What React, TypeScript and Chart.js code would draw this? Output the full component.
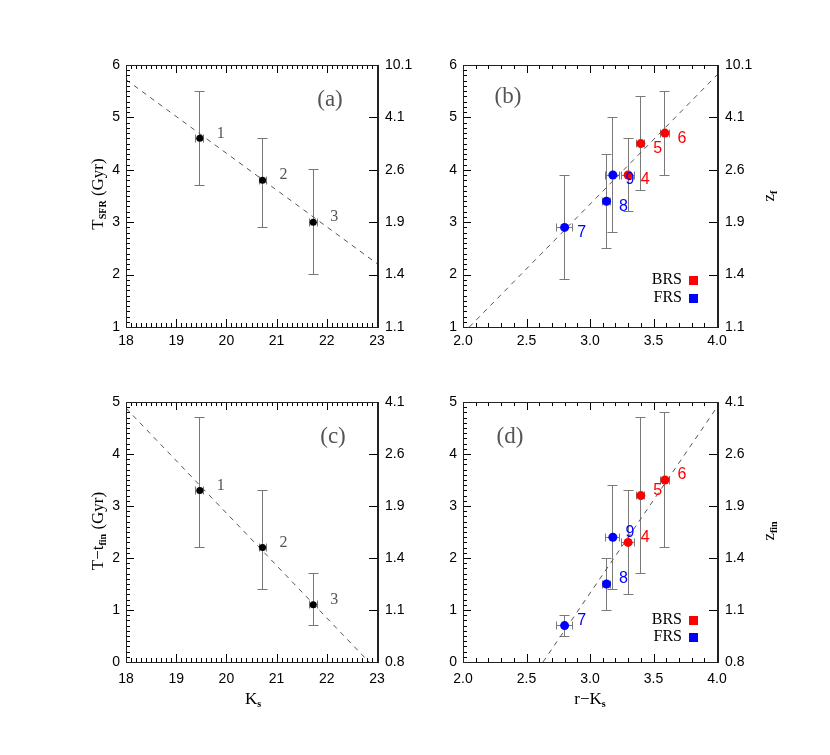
import React, { useEffect, useRef } from 'react';
import { Chart, registerables } from 'chart.js';

Chart.register(...registerables);

// ---------------- data ----------------
const KS_TICKS = [18, 19, 20, 21, 22, 23];
const RK_TICKS = [2.0, 2.5, 3.0, 3.5, 4.0];
const TSFR_TICKS = [1, 2, 3, 4, 5, 6];
const TFIN_TICKS = [0, 1, 2, 3, 4, 5];
const ZF_LABELS = ['1.1', '1.4', '1.9', '2.6', '4.1', '10.1'];
const ZFIN_LABELS = ['0.8', '1.1', '1.4', '1.9', '2.6', '4.1'];

// Ks magnitude bins (panels a, c)
const BIN_IDS = ['1', '2', '3'];
const BIN_KS = [19.47, 20.72, 21.73];
const BIN_KS_ERR = [0.08, 0.07, 0.08];
const BIN_TSFR = [4.6, 3.8, 3.0];
const BIN_TSFR_LO = [3.7, 2.9, 2.0];
const BIN_TSFR_HI = [5.5, 4.6, 4.0];
const BIN_TFIN = [3.3, 2.2, 1.1];
const BIN_TFIN_LO = [2.2, 1.4, 0.7];
const BIN_TFIN_HI = [4.7, 3.3, 1.7];

// BRS colour bins (panels b, d)
const BRS_IDS = ['4', '5', '6'];
const BRS_RK = [3.30, 3.40, 3.59];
const BRS_RK_ERR = [0.05, 0.03, 0.035];
const BRS_TSFR = [3.9, 4.5, 4.7];
const BRS_TSFR_LO = [3.2, 3.6, 3.9];
const BRS_TSFR_HI = [4.6, 5.4, 5.5];
const BRS_TFIN = [2.3, 3.2, 3.5];
const BRS_TFIN_LO = [1.3, 1.7, 2.2];
const BRS_TFIN_HI = [3.3, 4.7, 4.8];

// FRS colour bins (panels b, d)
const FRS_IDS = ['7', '8', '9'];
const FRS_RK = [2.80, 3.13, 3.18];
const FRS_RK_ERR = [0.065, 0.03, 0.055];
const FRS_TSFR = [2.9, 3.4, 3.9];
const FRS_TSFR_LO = [1.9, 2.5, 2.8];
const FRS_TSFR_HI = [3.9, 4.3, 5.0];
const FRS_TFIN = [0.7, 1.5, 2.4];
const FRS_TFIN_LO = [0.5, 1.0, 1.4];
const FRS_TFIN_HI = [0.9, 2.0, 3.4];

// fitted relations (end points)
const FIT_A_X = [18, 23];
const FIT_A_Y = [5.72, 2.21];
const FIT_B_X = [2.05, 4.0];
const FIT_B_Y = [1.0, 5.81];
const FIT_C_X = [18, 22.84];
const FIT_C_Y = [4.88, 0];
const FIT_D_X = [2.63, 4.0];
const FIT_D_Y = [0, 4.9];

// ---------------- styling / layout ----------------
const W = 830;
const H = 755;
const AX = 40;
const SANS = "'Liberation Sans', Arial, sans-serif";
const SERIF = "'Liberation Serif', 'Times New Roman', serif";
const RED = '#ff0000';
const BLUE = '#0000ff';

type Part = { t: string; sub?: boolean };
type Series = {
  ids: string[]; x: number[]; xErr: number[]; y: number[]; lo: number[]; hi: number[];
  color: string; radius: number; errColor: string; labelColor: string; labelFont: string;
  dx: number; dy: number;
};
type Title = { parts: Part[]; x: number; y: number; rot: number };
type PanelCfg = {
  key: string;
  area: { l: number; r: number; t: number; b: number };
  xMin: number; xMax: number; xTicks: number[]; xFmt: (v: number) => string; xMinor: number; xPad: number;
  yMin: number; yMax: number; yTicks: number[]; yMinor: number; zLabels: string[];
  series: Series[];
  fit: { x: number[]; y: number[] };
  tag: string; tagPos: [number, number];
  titles: Title[];
  legend?: { x: number; ys: [number, number] };
};

const binSeries = (y: number[], lo: number[], hi: number[]): Series => ({
  ids: BIN_IDS, x: BIN_KS, xErr: BIN_KS_ERR, y, lo, hi,
  color: '#000', radius: 3.5, errColor: '#777', labelColor: '#555', labelFont: `16px ${SERIF}`,
  dx: 21, dy: -5,
});
const colSeries = (ids: string[], x: number[], xe: number[], y: number[], lo: number[], hi: number[], color: string, dy: number): Series => ({
  ids, x, xErr: xe, y, lo, hi, color, radius: 4.5, errColor: '#7a7a7a', labelColor: color,
  labelFont: `16px ${SANS}`, dx: 17, dy,
});

const intFmt = (v: number) => String(v);
const decFmt = (v: number) => v.toFixed(1);

const PANELS: PanelCfg[] = [
  {
    key: 'a', area: { l: 126, r: 377, t: 65, b: 327 },
    xMin: 18, xMax: 23, xTicks: KS_TICKS, xFmt: intFmt, xMinor: 0.1, xPad: 6,
    yMin: 1, yMax: 6, yTicks: TSFR_TICKS, yMinor: 0.1, zLabels: ZF_LABELS,
    series: [binSeries(BIN_TSFR, BIN_TSFR_LO, BIN_TSFR_HI)],
    fit: { x: FIT_A_X, y: FIT_A_Y },
    tag: '(a)', tagPos: [330, 100],
    titles: [{ parts: [{ t: 'T' }, { t: 'SFR', sub: true }, { t: ' (Gyr)' }], x: 97, y: 194, rot: -Math.PI / 2 }],
  },
  {
    key: 'b', area: { l: 463, r: 717, t: 65, b: 327 },
    xMin: 2, xMax: 4, xTicks: RK_TICKS, xFmt: decFmt, xMinor: 0.1, xPad: 6,
    yMin: 1, yMax: 6, yTicks: TSFR_TICKS, yMinor: 0.1, zLabels: ZF_LABELS,
    series: [
      colSeries(FRS_IDS, FRS_RK, FRS_RK_ERR, FRS_TSFR, FRS_TSFR_LO, FRS_TSFR_HI, BLUE, 5),
      colSeries(BRS_IDS, BRS_RK, BRS_RK_ERR, BRS_TSFR, BRS_TSFR_LO, BRS_TSFR_HI, RED, 5),
    ],
    fit: { x: FIT_B_X, y: FIT_B_Y },
    tag: '(b)', tagPos: [508, 97],
    titles: [{ parts: [{ t: 'z' }, { t: 'f', sub: true }], x: 768, y: 196, rot: -Math.PI / 2 }],
    legend: { x: 682, ys: [280, 298] },
  },
  {
    key: 'c', area: { l: 126, r: 377, t: 402, b: 662 },
    xMin: 18, xMax: 23, xTicks: KS_TICKS, xFmt: intFmt, xMinor: 0.1, xPad: 9,
    yMin: 0, yMax: 5, yTicks: TFIN_TICKS, yMinor: 0.1, zLabels: ZFIN_LABELS,
    series: [binSeries(BIN_TFIN, BIN_TFIN_LO, BIN_TFIN_HI)],
    fit: { x: FIT_C_X, y: FIT_C_Y },
    tag: '(c)', tagPos: [333, 437],
    titles: [
      { parts: [{ t: 'T\u2212t' }, { t: 'fin', sub: true }, { t: ' (Gyr)' }], x: 97, y: 531, rot: -Math.PI / 2 },
      { parts: [{ t: 'K' }, { t: 's', sub: true }], x: 253, y: 698, rot: 0 },
    ],
  },
  {
    key: 'd', area: { l: 463, r: 717, t: 402, b: 662 },
    xMin: 2, xMax: 4, xTicks: RK_TICKS, xFmt: decFmt, xMinor: 0.1, xPad: 9,
    yMin: 0, yMax: 5, yTicks: TFIN_TICKS, yMinor: 0.1, zLabels: ZFIN_LABELS,
    series: [
      colSeries(FRS_IDS, FRS_RK, FRS_RK_ERR, FRS_TFIN, FRS_TFIN_LO, FRS_TFIN_HI, BLUE, -5),
      colSeries(BRS_IDS, BRS_RK, BRS_RK_ERR, BRS_TFIN, BRS_TFIN_LO, BRS_TFIN_HI, RED, -5),
    ],
    fit: { x: FIT_D_X, y: FIT_D_Y },
    tag: '(d)', tagPos: [510, 437],
    titles: [
      { parts: [{ t: 'z' }, { t: 'fin', sub: true }], x: 768, y: 531, rot: -Math.PI / 2 },
      { parts: [{ t: 'r\u2212K' }, { t: 's', sub: true }], x: 590, y: 698, rot: 0 },
    ],
    legend: { x: 682, ys: [620, 637] },
  },
];

const crisp = (v: number) => Math.round(v - 0.5) + 0.5;

function drawRich(ctx: CanvasRenderingContext2D, parts: Part[], cx: number, cy: number, rot: number) {
  const mainFont = `17px ${SERIF}`;
  const subFont = `bold 10px ${SERIF}`;
  ctx.save();
  ctx.translate(cx, cy);
  ctx.rotate(rot);
  ctx.fillStyle = '#000';
  ctx.textAlign = 'left';
  ctx.textBaseline = 'alphabetic';
  const widths = parts.map((p) => {
    ctx.font = p.sub ? subFont : mainFont;
    return ctx.measureText(p.t).width;
  });
  const total = widths.reduce((a, b) => a + b, 0);
  let x = -total / 2;
  parts.forEach((p, i) => {
    ctx.font = p.sub ? subFont : mainFont;
    ctx.fillText(p.t, x, p.sub ? 9 : 6);
    x += widths[i];
  });
  ctx.restore();
}

function makeDecor(p: PanelCfg) {
  return {
    id: 'decor' + p.key,
    beforeDatasetsDraw(chart: any) {
      const ctx: CanvasRenderingContext2D = chart.ctx;
      const xs = chart.scales.x;
      const ys = chart.scales.y;
      ctx.save();
      ctx.setLineDash([]);
      ctx.lineWidth = 1;
      for (const s of p.series) {
        ctx.strokeStyle = s.errColor;
        for (let i = 0; i < s.x.length; i++) {
          const px = crisp(xs.getPixelForValue(s.x[i]));
          const py = crisp(ys.getPixelForValue(s.y[i]));
          const pLo = crisp(ys.getPixelForValue(s.lo[i]));
          const pHi = crisp(ys.getPixelForValue(s.hi[i]));
          const xl = crisp(xs.getPixelForValue(s.x[i] - s.xErr[i]));
          const xr = crisp(xs.getPixelForValue(s.x[i] + s.xErr[i]));
          ctx.beginPath();
          ctx.moveTo(px, pHi); ctx.lineTo(px, pLo);
          ctx.moveTo(px - 5, pHi); ctx.lineTo(px + 5, pHi);
          ctx.moveTo(px - 5, pLo); ctx.lineTo(px + 5, pLo);
          ctx.moveTo(xl, py); ctx.lineTo(xr, py);
          ctx.moveTo(xl, py - 4); ctx.lineTo(xl, py + 4);
          ctx.moveTo(xr, py - 4); ctx.lineTo(xr, py + 4);
          ctx.stroke();
        }
      }
      ctx.restore();
    },
    afterDraw(chart: any) {
      const ctx: CanvasRenderingContext2D = chart.ctx;
      const xs = chart.scales.x;
      const ys = chart.scales.y;
      const ca = chart.chartArea;
      const left = Math.round(ca.left);
      const right = Math.round(ca.right);
      const top = Math.round(ca.top);
      const bottom = Math.round(ca.bottom);
      ctx.save();
      ctx.setLineDash([]);
      ctx.globalAlpha = 1;
      ctx.fillStyle = '#000';
      // x ticks (bottom and top)
      const nx = Math.round((p.xMax - p.xMin) / p.xMinor);
      for (let i = 0; i <= nx; i++) {
        const v = p.xMin + i * p.xMinor;
        const major = p.xTicks.some((t) => Math.abs(t - v) < 1e-6);
        const len = major ? 8 : 4;
        const px = Math.round(xs.getPixelForValue(v));
        ctx.fillRect(px, bottom - len, 1, len);
        ctx.fillRect(px, top, 1, len);
      }
      // y ticks (left minor+major, right major only)
      const ny = Math.round((p.yMax - p.yMin) / p.yMinor);
      for (let i = 0; i <= ny; i++) {
        const v = p.yMin + i * p.yMinor;
        const major = p.yTicks.some((t) => Math.abs(t - v) < 1e-6);
        const len = major ? 8 : 4;
        const py = Math.round(ys.getPixelForValue(v));
        ctx.fillRect(left, py, len, 1);
        if (major) ctx.fillRect(right - 8, py, 8, 1);
      }
      // frame
      ctx.fillStyle = '#222';
      ctx.fillRect(left, top, right - left + 1, 1);
      ctx.fillRect(left, bottom, right - left + 1, 1);
      ctx.fillRect(left, top, 1, bottom - top + 1);
      ctx.fillRect(right, top, 2, bottom - top + 1);

      // point labels
      ctx.textAlign = 'center';
      ctx.textBaseline = 'middle';
      for (const s of p.series) {
        ctx.font = s.labelFont;
        ctx.fillStyle = s.labelColor;
        s.ids.forEach((id, i) => {
          ctx.fillText(id, xs.getPixelForValue(s.x[i]) + s.dx, ys.getPixelForValue(s.y[i]) + s.dy);
        });
      }
      // panel tag
      ctx.font = `23px ${SERIF}`;
      ctx.fillStyle = '#555';
      ctx.fillText(p.tag, p.tagPos[0], p.tagPos[1]);

      // legend
      if (p.legend) {
        ctx.font = `16px ${SERIF}`;
        ctx.textAlign = 'right';
        const entries: [string, string][] = [['BRS', RED], ['FRS', BLUE]];
        entries.forEach(([name, col], i) => {
          const y = p.legend!.ys[i];
          ctx.fillStyle = '#000';
          ctx.fillText(name, p.legend!.x, y);
          ctx.fillStyle = col;
          ctx.fillRect(p.legend!.x + 7, y - 4, 9, 9);
        });
      }
      ctx.restore();
      for (const t of p.titles) drawRich(ctx, t.parts, t.x, t.y, t.rot);
    },
  };
}

function PanelChart({ p }: { p: PanelCfg }) {
  const ref = useRef<HTMLCanvasElement>(null);
  useEffect(() => {
    const canvas = ref.current;
    if (!canvas) return;
    const zero = (s: any) => {
      s.paddingLeft = 0; s.paddingRight = 0; s.paddingTop = 0; s.paddingBottom = 0;
    };
    const tickFont = { family: SANS, size: 14 };
    const datasets: any[] = [
      {
        data: p.fit.x.map((x, i) => ({ x, y: p.fit.y[i] })),
        showLine: true, borderColor: '#555', borderWidth: 1, borderDash: [5, 5],
        pointRadius: 0, pointHoverRadius: 0, order: 5,
      },
      ...p.series.map((s) => ({
        data: s.x.map((x, i) => ({ x, y: s.y[i] })),
        backgroundColor: s.color, borderColor: s.color, borderWidth: 0,
        pointRadius: s.radius, pointHoverRadius: s.radius, order: 1,
      })),
    ];
    const chart = new Chart(canvas, {
      type: 'scatter',
      data: { datasets },
      options: {
        responsive: false,
        animation: false,
        devicePixelRatio: 1,
        events: [],
        layout: {
          padding: { left: p.area.l - AX, right: W - p.area.r - AX, top: p.area.t, bottom: H - p.area.b - AX },
        },
        plugins: { legend: { display: false }, tooltip: { enabled: false } },
        scales: {
          x: {
            type: 'linear', position: 'bottom', min: p.xMin, max: p.xMax,
            afterBuildTicks: (s: any) => { s.ticks = p.xTicks.map((v) => ({ value: v })); },
            afterFit: (s: any) => { s.height = AX; zero(s); },
            grid: { display: false, drawTicks: false }, border: { display: false },
            ticks: {
              padding: p.xPad, color: '#000', font: tickFont, maxRotation: 0, minRotation: 0, autoSkip: false,
              callback: (v: any) => p.xFmt(Number(v)),
            },
          },
          y: {
            type: 'linear', position: 'left', min: p.yMin, max: p.yMax,
            afterBuildTicks: (s: any) => { s.ticks = p.yTicks.map((v) => ({ value: v })); },
            afterFit: (s: any) => { s.width = AX; zero(s); },
            grid: { display: false, drawTicks: false }, border: { display: false },
            ticks: { padding: 6, color: '#000', font: tickFont, autoSkip: false, callback: (v: any) => String(v) },
          },
          y2: {
            type: 'linear', position: 'right', min: p.yMin, max: p.yMax,
            afterBuildTicks: (s: any) => { s.ticks = p.yTicks.map((v) => ({ value: v })); },
            afterFit: (s: any) => { s.width = AX; zero(s); },
            grid: { display: false, drawTicks: false }, border: { display: false },
            ticks: { padding: 8, color: '#000', font: tickFont, autoSkip: false, callback: (_v: any, i: number) => p.zLabels[i] },
          },
        },
      } as any,
      plugins: [makeDecor(p)],
    });
    return () => chart.destroy();
  }, [p]);
  return <canvas ref={ref} width={W} height={H} style={{ position: 'absolute', left: 0, top: 0, width: W, height: H }} />;
}

export default function App() {
  return (
    <div style={{ position: 'fixed', left: 0, top: 0, width: W, height: H, background: '#fff' }}>
      {PANELS.map((p) => (
        <PanelChart key={p.key} p={p} />
      ))}
    </div>
  );
}
